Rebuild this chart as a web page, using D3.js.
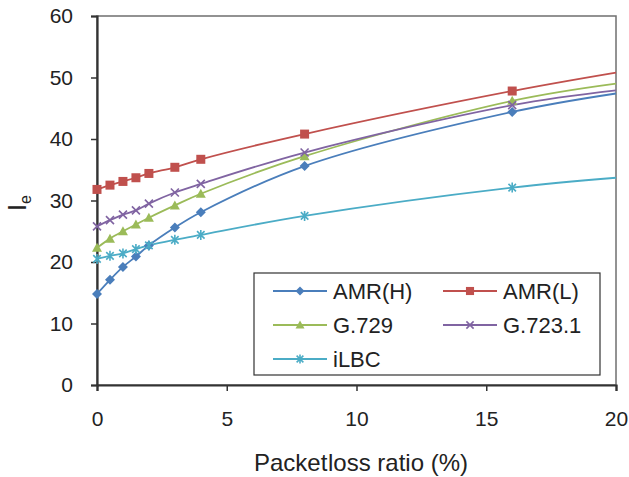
<!DOCTYPE html>
<html>
<head>
<meta charset="utf-8">
<script src="https://cdn.jsdelivr.net/npm/d3@7"></script>
<style>
  body { margin: 0; background: #fff; }
  svg { display: block; font-family: "Liberation Sans", Arial, sans-serif; }
</style>
</head>
<body>
<svg id="chart" width="629" height="477"></svg>
<script>
// packet loss ratio (%)
var xs = [0, 0.5, 1, 1.5, 2, 3, 4, 8, 16, 20];

var amrH  = [14.8, 17.1, 19.2, 20.9, 22.7, 25.6, 28.1, 35.6, 44.4, 47.4];
var amrL  = [31.8, 32.5, 33.1, 33.7, 34.4, 35.4, 36.7, 40.8, 47.8, 50.8];
var g729  = [22.3, 23.8, 25.0, 26.1, 27.2, 29.2, 31.1, 37.2, 46.2, 49.0];
var g7231 = [25.8, 26.8, 27.7, 28.4, 29.5, 31.3, 32.7, 37.8, 45.5, 47.9];
var ilbc  = [20.5, 21.0, 21.4, 22.1, 22.7, 23.6, 24.4, 27.5, 32.1, 33.7];

var seriesNames = ["AMR(H)", "AMR(L)", "G.729", "G.723.1", "iLBC"];
var xTicks = [0, 5, 10, 15, 20];
var yTicks = [0, 10, 20, 30, 40, 50, 60];

var colors = ["#4a7ebb", "#c0504d", "#9bbb59", "#8064a2", "#4bacc6"];
var shapes = ["diamond", "square", "triangle", "x", "star"];

var series = [amrH, amrL, g729, g7231, ilbc].map(function(v, i) {
    return {
        name: seriesNames[i],
        color: colors[i],
        shape: shapes[i],
        points: v.map(function(y, j) { return {x: xs[j], y: y}; })
    };
});

var svg = d3.select("#chart");

var pLeft = 97, pRight = 616, pTop = 16, pBottom = 385;

var x = d3.scaleLinear().domain([0, 20]).range([pLeft, pRight]);
var y = d3.scaleLinear().domain([0, 60]).range([pBottom, pTop]);

// frame
svg.append("rect")
    .attr("x", pLeft).attr("y", pTop)
    .attr("width", pRight - pLeft).attr("height", pBottom - pTop)
    .attr("fill", "none").attr("stroke", "#6f6f6f").attr("stroke-width", 1.5);

// axes
var yAxis = svg.append("g")
    .attr("transform", "translate(" + pLeft + ",0)")
    .call(d3.axisLeft(y).tickValues(yTicks).tickSize(6).tickPadding(18));
var xAxis = svg.append("g")
    .attr("transform", "translate(0," + pBottom + ")")
    .call(d3.axisBottom(x).tickValues(xTicks).tickSize(6).tickPadding(18));

[xAxis, yAxis].forEach(function(a) {
    a.select(".domain").attr("stroke", "#333").attr("stroke-width", 2.2);
    a.selectAll(".tick line").attr("stroke", "#333").attr("stroke-width", 1.5);
    a.selectAll(".tick text").attr("fill", "#222").style("font-size", "21px")
        .style("font-family", "\"Liberation Sans\", Arial, sans-serif");
});
xAxis.selectAll(".tick text").attr("dy", "0.8em");

// axis titles
var xt = svg.append("text")
    .attr("x", 361).attr("y", 471)
    .attr("text-anchor", "middle")
    .style("font-size", "24px").attr("fill", "#222");
xt.append("tspan").attr("word-spacing", "-6px").text("Packet ");
xt.append("tspan").text("loss ratio (%)");

var yt = svg.append("text")
    .attr("transform", "translate(26,211) rotate(-90)")
    .style("font-size", "25px").attr("fill", "#222");
yt.append("tspan").text("I");
yt.append("tspan").attr("dy", 5).style("font-size", "16px").text("e");

// markers
function marker(sel, shape, color, size) {
    var s = size / 2;
    if (shape === "diamond") {
        sel.append("path").attr("d", "M0," + (-s) + "L" + s + ",0L0," + s + "L" + (-s) + ",0Z")
            .attr("fill", color);
    } else if (shape === "square") {
        sel.append("rect").attr("x", -s * 0.9).attr("y", -s * 0.9)
            .attr("width", s * 1.8).attr("height", s * 1.8).attr("fill", color);
    } else if (shape === "triangle") {
        sel.append("path").attr("d", "M0," + (-s) + "L" + s + "," + (s * 0.8) + "L" + (-s) + "," + (s * 0.8) + "Z")
            .attr("fill", color);
    } else if (shape === "x") {
        var k = s * 0.8;
        sel.append("path").attr("d", "M" + (-k) + "," + (-k) + "L" + k + "," + k + "M" + (-k) + "," + k + "L" + k + "," + (-k))
            .attr("stroke", color).attr("stroke-width", 1.6).attr("fill", "none");
    } else if (shape === "star") {
        var k2 = s * 0.75;
        sel.append("path").attr("d", "M" + (-k2) + "," + (-k2) + "L" + k2 + "," + k2 + "M" + (-k2) + "," + k2 + "L" + k2 + "," + (-k2) + "M0," + (-s) + "L0," + s)
            .attr("stroke", color).attr("stroke-width", 1.6).attr("fill", "none");
    }
}

var line = d3.line()
    .x(function(d) { return x(d.x); })
    .y(function(d) { return y(d.y); })
    .curve(d3.curveCatmullRom.alpha(0.5));

var plot = svg.append("g");

series.forEach(function(s) {
    plot.append("path")
        .attr("d", line(s.points))
        .attr("fill", "none")
        .attr("stroke", s.color)
        .attr("stroke-width", 1.8);
});

series.forEach(function(s) {
    // no marker on the last point (x = 20)
    s.points.slice(0, -1).forEach(function(p) {
        var g = plot.append("g").attr("transform", "translate(" + x(p.x) + "," + y(p.y) + ")");
        marker(g, s.shape, s.color, 10);
    });
});

// legend
var legend = svg.append("g");
legend.append("rect")
    .attr("x", 254).attr("y", 273).attr("width", 346).attr("height", 102)
    .attr("fill", "#fff").attr("stroke", "#333").attr("stroke-width", 1.2);

series.forEach(function(s, i) {
    var col = i % 2, row = Math.floor(i / 2);
    var lx = 273 + col * 170, ly = 291 + row * 34;
    var g = legend.append("g");
    g.append("line")
        .attr("x1", lx).attr("x2", lx + 54).attr("y1", ly).attr("y2", ly)
        .attr("stroke", s.color).attr("stroke-width", 1.8);
    marker(g.append("g").attr("transform", "translate(" + (lx + 27) + "," + ly + ")"), s.shape, s.color, 9);
    g.append("text")
        .attr("x", lx + 60).attr("y", ly).attr("dy", "0.35em")
        .style("font-size", "22px").attr("fill", "#222")
        .text(s.name);
});
</script>
</body>
</html>
